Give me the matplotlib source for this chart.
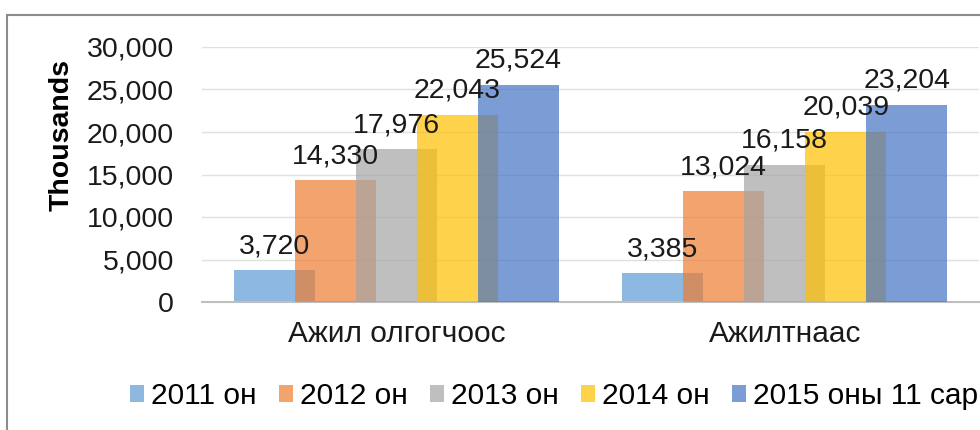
import matplotlib.pyplot as plt
from matplotlib.patches import Rectangle, Patch
from matplotlib.ticker import FuncFormatter
import numpy as np

plt.rcParams['font.family'] = ['Liberation Sans', 'DejaVu Sans']

categories = ["Ажил олгогчоос", "Ажилтнаас"]
series = ["2011 он", "2012 он", "2013 он", "2014 он", "2015 оны 11 сар"]
values = [
    [3720, 3385],
    [14330, 13024],
    [17976, 16158],
    [22043, 20039],
    [25524, 23204],
]
colors = ["#5B9BD5", "#ED7D31", "#A5A5A5", "#FFC000", "#4472C4"]

fig = plt.figure(figsize=(9.8, 4.3), dpi=100)
ax = fig.add_axes([202 / 980, 128 / 430, 777 / 980, 255 / 430])

# outer chart frame (cropped at right and bottom)
fig.patches.append(Rectangle((7 / 980, -0.1), 1.2, 1 - 15 / 430 + 0.1,
                             transform=fig.transFigure, fill=False,
                             edgecolor="#8c8c8c", linewidth=1.5))

x = np.arange(len(categories))
step = 0.157
width = 0.209
for i, (name, vals) in enumerate(zip(series, values)):
    pos = x + (i - 2) * step
    ax.bar(pos, vals, width=width, color=colors[i], alpha=0.7, zorder=2 + i)
    for px, v in zip(pos, vals):
        ax.annotate(f"{v:,}", (px, v), xytext=(0, 8), textcoords="offset points",
                    ha="center", va="bottom", fontsize=20.5, color="#1a1a1a",
                    zorder=20)

ax.set_xlim(-0.5, 1.5)
ax.set_ylim(0, 30000)
ax.set_yticks(range(0, 30001, 5000))
ax.yaxis.set_major_formatter(FuncFormatter(lambda v, p: f"{int(v):,}"))
ax.set_xticks(x)
ax.set_xticklabels(categories)
ax.tick_params(axis="both", length=0, colors="#1a1a1a")
ax.tick_params(axis="y", pad=20, labelsize=20.5)
ax.tick_params(axis="x", pad=13, labelsize=21.5)
ax.grid(axis="y", color="#e0e0e0", linewidth=1, zorder=0)
ax.set_axisbelow(True)
for s in ["top", "right", "left"]:
    ax.spines[s].set_visible(False)
ax.spines["bottom"].set_color("#bfbfbf")
ax.spines["bottom"].set_linewidth(1.5)

fig.text(62 / 980, 1 - 135 / 430, "Thousands", rotation=90, ha="center",
         va="center", fontsize=20.5, fontweight="bold")

handles = [Patch(facecolor=c, alpha=0.7) for c in colors]
fig.legend(handles, series, loc="center left",
           bbox_to_anchor=(130 / 980, 1 - 396 / 430), ncol=5, frameon=False,
           fontsize=21.5, handlelength=0.47, handleheight=0.47,
           handletextpad=0.23, columnspacing=0.75, borderpad=0, borderaxespad=0)

fig.savefig("out.png", dpi=100)
